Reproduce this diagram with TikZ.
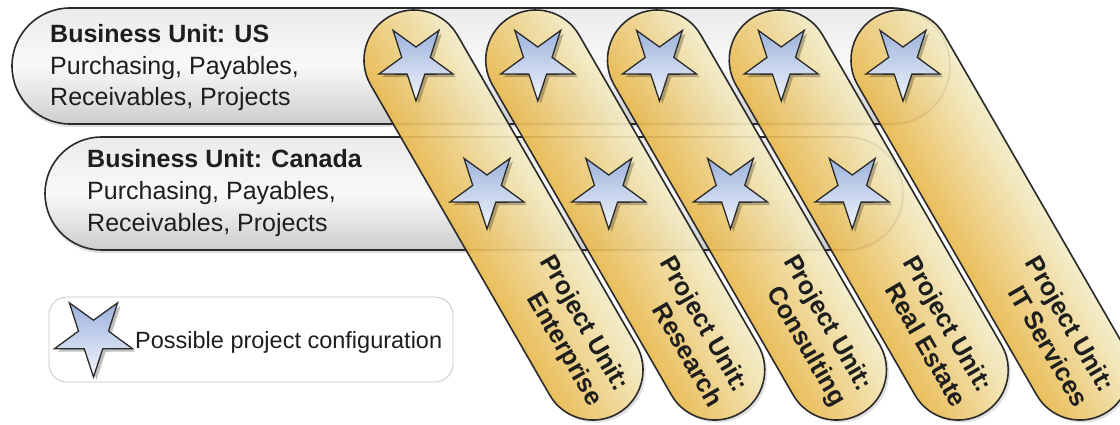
\documentclass[tikz,border=0pt]{standalone}
\usepackage{fontspec}
\setmainfont{Liberation Sans}
\usetikzlibrary{shapes.geometric}
\definecolor{capL}{HTML}{ECBB4E}
\definecolor{capR}{HTML}{F6F0CB}
\definecolor{starT}{HTML}{9DB3DD}
\definecolor{starB}{HTML}{F2F5FB}
\definecolor{barT}{HTML}{EBEBEB}
\definecolor{barM}{HTML}{F9F9F9}
\definecolor{barB}{HTML}{CDCDCD}
\definecolor{edge}{HTML}{2B2B2B}
\definecolor{txt}{HTML}{1E1E1E}
\begin{document}
\begin{tikzpicture}[x=1pt,y=1pt,
  barbox/.style={draw=edge, line width=1.6pt, top color=barT, bottom color=barB, middle color=barM},
  capbox/.style={draw=edge, line width=1.6pt, top color=capR, bottom color=capL, fill opacity=0.9},
  starbase/.style={star, star points=5, star point ratio=2.6, shape border rotate=180, minimum size=78pt, inner sep=0pt},
  starnode/.style={starbase, draw=edge, line width=1.3pt, top color=starT, bottom color=starB},
  starshadow/.style={starbase, fill=black, opacity=0.25},
  shadowfill/.style={fill=black, opacity=0.12},
  bartext/.style={anchor=base west, inner sep=0pt, text=txt, font=\fontsize{25}{30}\selectfont},
  captext/.style={anchor=east, align=right, inner sep=0pt, rotate=-60, text=txt, font=\bfseries\fontsize{25.5}{30}\selectfont}
]
\useasboundingbox (0,0) rectangle (1120,424);
\fill[white] (0,0) rectangle (1120,424);
% business unit bars
\fill[shadowfill] (70,297) -- (892,297) arc(-90:90:58pt) -- (70,413) arc(90:270:58pt) -- cycle;
\path[barbox] (70,300) -- (892,300) arc(-90:90:58pt) -- (70,416) arc(90:270:58pt) -- cycle;
\fill[shadowfill] (101.5,171) -- (846.5,171) arc(-90:90:56.5pt) -- (101.5,284) arc(90:270:56.5pt) -- cycle;
\path[barbox] (101.5,174) -- (846.5,174) arc(-90:90:56.5pt) -- (101.5,287) arc(90:270:56.5pt) -- cycle;
\node[bartext, font=\bfseries\fontsize{25}{30}\selectfont] (us1) at (50,381) {Business Unit: US};
\node[bartext] (us2) at (50,349.5) {Purchasing, Payables,};
\node[bartext] (us3) at (50,318) {Receivables, Projects};
\node[bartext, font=\bfseries\fontsize{25}{30}\selectfont] (ca1) at (87,256) {Business Unit: Canada};
\node[bartext] (ca2) at (87,224.5) {Purchasing, Payables,};
\node[bartext] (ca3) at (87,193) {Receivables, Projects};
% project unit capsules
\foreach \k in {0,...,4}{
  \pgfmathsetmacro\cx{414+121.75*\k}
  \begin{scope}[transform canvas={shift={(\cx+2.5,361.5)}, rotate=-60}]
    \fill[shadowfill] (0,-50) -- (358,-50) arc(-90:90:50pt) -- (0,50) arc(90:270:50pt) -- cycle;
  \end{scope}
  \begin{scope}[transform canvas={shift={(\cx,364)}, rotate=-60}]
    \path[capbox] (0,-50) -- (358,-50) arc(-90:90:50pt) -- (0,50) arc(90:270:50pt) -- cycle;
  \end{scope}
}
\foreach \k/\nm in {0/Enterprise,1/Research,2/Consulting,3/Real Estate,4/IT Services}{
  \node[captext] (pu\k) at (608.5+121.75*\k,27.1) {Project Unit:\\\nm};
}
% stars
\foreach \k in {0,...,4}{
  \node[starshadow] at (419+121.75*\k,359) {};
  \node[starnode] (su\k) at (416+121.75*\k,362) {};
}
\foreach \k in {0,...,3}{
  \node[starshadow] at (490+121.75*\k,231) {};
  \node[starnode] (sc\k) at (487+121.75*\k,234) {};
}
% legend
\node[draw=gray!45, line width=0.8pt, rounded corners=18pt, fill=white, minimum width=404pt, minimum height=85pt, inner sep=0pt] (legend) at (251,84.5) {};
\node[starshadow, minimum size=82pt] at (96.5,85) {};
\node[starnode, minimum size=82pt] (lstar) at (93.5,88) {};
\node[anchor=base west, inner sep=0pt, text=txt, font=\fontsize{23.5}{28}\selectfont] (ltext) at (135,76) {Possible project configuration};
\end{tikzpicture}
\end{document}
